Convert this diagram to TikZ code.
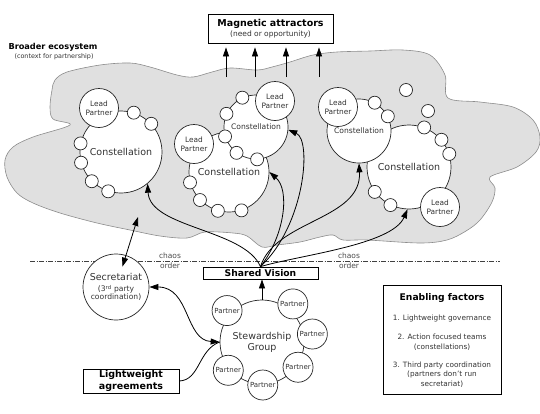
\documentclass[tikz,border=0pt]{standalone}
\usepackage{tikz}
\usetikzlibrary{arrows.meta,positioning}
\usepackage{fontspec}
\setmainfont{DejaVu Sans}
\usepackage{xcolor}
\definecolor{cloudgray}{gray}{0.88}
\definecolor{cloudline}{gray}{0.55}
\newcommand{\sz}[2]{\fontsize{#1}{#2}\selectfont}

\begin{document}
\begin{tikzpicture}[x=1pt,y=-1pt,>={Triangle[length=9pt,width=6pt]},node distance=20pt,on grid,
	every node/.style={text=black!80},
	mycircle/.style={circle,draw=black!85,fill=white,line width=0.7pt,inner sep=0pt,align=center},
	mydot/.style={circle,draw=black!85,fill=white,line width=0.7pt,inner sep=0pt,minimum size=13pt},
	mylead/.style={mycircle,minimum size=39pt,font=\sz{7.4}{8.5}},
	mypartner/.style={mycircle,minimum size=30pt,font=\sz{7}{7}},
	mybox/.style={draw=black,fill=white,line width=0.8pt,inner sep=1pt,align=center},
	myarrow/.style={->,line width=0.8pt,draw=black}]
	\useasboundingbox (0,0) rectangle (540,413);

	% ecosystem cloud
	\draw[cloudline,fill=cloudgray,line width=0.6pt] plot[smooth cycle,tension=0.55] coordinates {
		(55,80) (67,72) (100,65) (130,63) (150,67) (177,75) (193,77) (212,72) (230,68) (257,70)
		(272,67) (290,62) (313,55) (337,52) (370,51) (403,50) (430,55) (445,75) (448,98) (480,102)
		(513,107) (533,120) (540,137) (536,152) (517,167) (490,177) (495,188) (492,202) (480,220)
		(466,231) (447,240) (420,243) (367,240) (343,240) (333,235) (320,237) (300,242) (277,245)
		(262,247) (247,236) (233,233) (205,232) (187,238) (160,236) (130,230) (97,223) (60,213)
		(33,203) (17,193) (7,177) (5,160) (13,147) (33,137) (70,125) (53,119) (50,107) (52,90)};

	\node[anchor=west,text=black,font=\bfseries\sz{8.2}{10}] (eco) at (5,47) {Broader ecosystem};
	\node[anchor=west,font=\sz{6.4}{7}] (ecosub) at (11,57) {(context for partnership)};

	\node[mybox,minimum width=125pt,minimum height=29pt,font=\sz{7.5}{10}] (magnet) at (270.5,28.5)
		{{\bfseries\color{black}\sz{9.5}{10}Magnetic attractors}\\(need or opportunity)};
	\foreach \x [count=\i] in {226,255,286,319} {
		\coordinate (up\i) at (\x,77);
		\draw[myarrow,shorten >=4pt] (up\i) -- (up\i |- magnet.south);
	}

	% constellations
	\node[mycircle,minimum size=82pt,font=\sz{9.5}{11}] (cA) at (121,152) {Constellation};
	\foreach \a in {72,43,168,195,225,252} \node[mydot] at (cA.\a) {};
	\node[mylead] (lpA) [above left=44pt and 22pt of cA] {Lead\\Partner};

	\node[mycircle,minimum size=80pt,font=\sz{9.5}{11}] (cB) at (229,172) {Constellation};
	\foreach \a in {195,224,254,288} \node[mydot] at (cB.\a) {};
	\node[mylead] (lpB) [above left=28pt and 35pt of cB] {Lead\\Partner};

	\node[mycircle,minimum size=64pt,font=\sz{7.6}{9}] (cC) at (256,127) {Constellation};
	\foreach \a in {115,156,197,233,272} \node[mydot] at (cC.\a) {};
	\node[mylead] (lpC) [above right=26pt and 19pt of cC] {Lead\\Partner};

	\node[mycircle,minimum size=84pt,font=\sz{9.5}{11}] (cE) at (409,167) {Constellation};
	\foreach \a in {69,40,18,216,244} \node[mydot] at (cE.\a) {};
	\node[mylead] (lpE) [below right=40pt and 31pt of cE] {Lead\\Partner};

	\node[mycircle,minimum size=64pt,font=\sz{7.6}{9}] (cD) at (359,131) {Constellation};
	\foreach \a in {61,27} \node[mydot] at (cD.\a) {};
	\node[mylead] (lpD) [above left=24pt and 21pt of cD] {Lead\\Partner};

	\node[mydot] (free1) at (406,90) {};
	\node[mydot] (free2) at (428,111) {};

	% chaos / order
	\coordinate (chaosL) at (30,261);
	\coordinate (chaosR) at (500,261);
	\draw[black!75,line width=0.7pt,dash pattern=on 5pt off 1.5pt on 1pt off 1.5pt] (chaosL) -- (chaosR);
	\tikzset{mylabel/.style={font=\sz{7.5}{8},text=black!70}}
	\node[mylabel] (chaos1) at (170,256) {chaos};
	\node[mylabel] (order1) at (170,266) {order};
	\node[mylabel] (chaos2) at (349,256) {chaos};
	\node[mylabel] (order2) at (349,266) {order};

	% order side
	\node[mybox,minimum width=115pt,minimum height=12pt,font=\bfseries\sz{9.2}{11},text=black] (vision) at (260.5,273) {Shared Vision};
	\node[mycircle,minimum size=84pt,font=\sz{9.5}{11}] (stew) at (262,342) {Stewardship\\Group};
	\foreach \a/\r in {138/47,51/49,9/51,-35/44,-89/43,-140/44}
		\node[mypartner] at ([shift={(\a:\r pt)}]stew.center) {Partner};
	\node[mycircle,minimum size=66pt,font=\sz{7.6}{7.5}] (secr) at (116,287)
		{{\sz{9.5}{11}Secretariat}\\[3.5pt](3\textsuperscript{rd} party\\coordination)};
	\node[mybox,minimum width=96pt,minimum height=24pt,font=\bfseries\sz{9.5}{12},text=black] (agree) at (131,381) {Lightweight\\agreements};

	\node[mybox,minimum width=118pt,minimum height=109pt] (enab) at (442,339.5) {};
	\tikzset{mylist/.style={align=center,font=\sz{7.3}{9.5}}}
	\node[font=\bfseries\sz{9.2}{11},text=black] (entitle) at (442,298) {Enabling factors};
	\node[mylist] (en1) [below=20pt of entitle] {1. Lightweight governance};
	\node[mylist] (en2) [below=24pt of en1] {2. Action focused teams\\(constellations)};
	\node[mylist] (en3) [below=32.5pt of en2] {3. Third party coordination\\(partners don't run\\secretariat)};

	% connectors
	\draw[myarrow] (stew) -- (stew |- vision.south);
	\draw[myarrow] (vision.north) .. controls (244,229) and (150,228) .. (cA.-50);
	\draw[myarrow] (vision.north) .. controls (285,235) and (290,190) .. (cB.0);
	\draw[myarrow] (vision.north) .. controls (305,225) and (312,140) .. (cC.-5);
	\draw[myarrow] (vision.north) .. controls (275,220) and (362,220) .. (cD.-90);
	\draw[myarrow] (vision.north) .. controls (300,255) and (392,245) .. (cE.-92);

	\coordinate (ecoarr) at (138,217);
	\draw[myarrow,<->,shorten >=-12pt] (ecoarr) -- (secr);
	\draw[myarrow,<->] (secr.east) .. controls (190,287) and (185,340) .. (stew.west);
	\draw[line width=0.8pt] (agree.east) .. controls (200,380) and (198,350) .. (stew.west);
\end{tikzpicture}
\end{document}
